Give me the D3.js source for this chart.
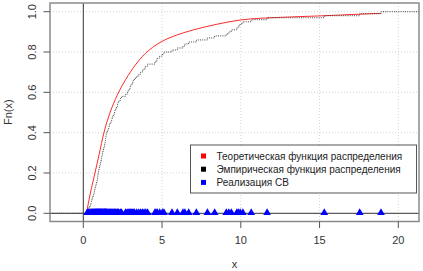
<!DOCTYPE html>
<html><head><meta charset="utf-8">
<script src="https://cdn.jsdelivr.net/npm/d3@7"></script>
<style>
html,body{margin:0;padding:0;background:#fff;}
svg{display:block;font-family:"Liberation Sans",Arial,sans-serif;}
</style></head>
<body>
<svg id="c" width="423" height="271"></svg>
<script>
// sample (realisation of the random variable)
const sample = [0.25,0.31,0.36,0.42,0.47,0.51,0.55,0.58,0.62,0.66,
 0.70,0.73,0.76,0.79,0.82,0.85,0.88,0.90,0.92,0.94,
 0.97,1.00,1.02,1.05,1.08,1.10,1.13,1.16,1.19,1.22,1.25,1.28,1.31,1.34,1.36,1.39,1.41,1.43,1.45,1.47,
 1.52,1.57,1.62,1.66,1.71,1.76,1.81,1.86,1.91,1.96,2.01,2.06,2.11,2.16,2.21,2.26,
 2.36,2.43,
 2.68,2.78,2.85,2.92,2.98,3.04,3.11,3.17,3.24,
 3.38,3.52,3.64,3.75,3.86,3.97,
 4.08,4.55,4.62,
 4.70,4.85,5.02,
 5.12,5.63,
 5.97,6.33,6.45,6.69,
 7.18,7.88,8.34,
 9.08,9.24,9.40,
 9.75,9.84,9.96,10.13,
 10.66,11.67,
 15.3,17.55,18.9];
// theoretical distribution function
const theorX = [0.2,0.45,0.74,1.0,1.31,1.7,2.15,2.7,3.3,3.9,4.4,5,6,7,8.5,10,12.5,15,17,18.9];
const theorY = [0,0.1,0.2,0.29,0.4,0.5,0.585,0.665,0.735,0.79,0.823,0.853,0.886,0.91,0.938,0.959,0.972,0.979,0.986,0.992];
const xTicks = [0,5,10,15,20];
const yTicks = [0,0.2,0.4,0.6,0.8,1.0];
const legendLabels = ["Теоретическая функция распределения","Эмпирическая функция распределения","Реализация СВ"];
const legendColors = ["#ff0000","#000000","#0000ff"];

const svg = d3.select("#c");
const box = {l:50, r:419, t:3, b:221.5};
const x = d3.scaleLinear().domain([0,20]).range([83.3,398.3]);
const y = d3.scaleLinear().domain([0,1]).range([213.3,11.7]);
const xMin = x.invert(box.l), xMax = x.invert(box.r);

svg.append("defs").append("clipPath").attr("id","clip")
  .append("rect").attr("x",box.l).attr("y",box.t).attr("width",box.r-box.l).attr("height",box.b-box.t);

// grid
const g = svg.append("g").attr("clip-path","url(#clip)");
g.selectAll(".gy").data(yTicks.slice(1)).join("line")
  .attr("x1",box.l).attr("x2",box.r).attr("y1",d=>y(d)).attr("y2",d=>y(d))
  .attr("stroke","#d3d3d3").attr("stroke-dasharray","1,2");
g.selectAll(".gx").data(xTicks.slice(1)).join("line")
  .attr("y1",box.t).attr("y2",box.b).attr("x1",d=>x(d)).attr("x2",d=>x(d))
  .attr("stroke","#d3d3d3").attr("stroke-dasharray","1,2");

// reference lines
g.append("line").attr("x1",box.l).attr("x2",box.r).attr("y1",y(0)).attr("y2",y(0)).attr("stroke","#333");
g.append("line").attr("x1",x(0)).attr("x2",x(0)).attr("y1",box.t).attr("y2",box.b).attr("stroke","#333");

// theoretical curve
const pts = theorX.map((v,i)=>[v,theorY[i]]);
g.append("path").datum(pts)
  .attr("d",d3.line().x(d=>x(d[0])).y(d=>y(d[1])).curve(d3.curveMonotoneX))
  .attr("fill","none").attr("stroke","#ff2a2a").attr("stroke-width",1);

// empirical step function
const n = sample.length;
const sorted = sample.slice().sort((a,b)=>a-b);
const steps = [[xMin,0]].concat(sorted.map((v,i)=>[v,(i+1)/n])).concat([[xMax,1]]);
g.append("path").datum(steps)
  .attr("d",d3.line().x(d=>x(d[0])).y(d=>y(d[1])).curve(d3.curveStepAfter))
  .attr("fill","none").attr("stroke","#444").attr("stroke-width",1).attr("stroke-dasharray","1,1.2");

// sample points
g.selectAll(".pt").data(sample).join("path")
  .attr("d",d3.symbol(d3.symbolTriangle,26))
  .attr("transform",d=>`translate(${x(d)},${y(0)-0.5})`)
  .attr("fill","#0000ff");

// box
svg.append("rect").attr("x",box.l).attr("y",box.t).attr("width",box.r-box.l).attr("height",box.b-box.t)
  .attr("fill","none").attr("stroke","#8a8a8a").attr("stroke-width",1.5);

// axes ticks and labels
const axG = svg.append("g");
axG.selectAll(".xt").data(xTicks).join("line")
  .attr("x1",d=>x(d)).attr("x2",d=>x(d)).attr("y1",box.b).attr("y2",box.b+6.5).attr("stroke","#555");
axG.selectAll(".xl").data(xTicks).join("text")
  .attr("x",d=>x(d)).attr("y",244).attr("text-anchor","middle")
  .attr("font-size",11).attr("fill","#333").text(d=>d);
axG.selectAll(".yt").data(yTicks).join("line")
  .attr("x1",box.l-6.5).attr("x2",box.l).attr("y1",d=>y(d)).attr("y2",d=>y(d)).attr("stroke","#555");
axG.selectAll(".yl").data(yTicks).join("text")
  .attr("transform",d=>`translate(36,${y(d)}) rotate(-90)`).attr("text-anchor","middle")
  .attr("font-size",11).attr("fill","#333").text(d=>d3.format(".1f")(d));
svg.append("text").attr("x",(box.l+box.r)/2).attr("y",268).attr("text-anchor","middle")
  .attr("font-size",11).attr("fill","#333").text("x");
svg.append("text").attr("transform",`translate(12,${(box.t+box.b)/2}) rotate(-90)`).attr("text-anchor","middle")
  .attr("font-size",11).attr("fill","#333").text("Fn(x)");

// legend
const lg = svg.append("g");
lg.append("rect").attr("x",190.5).attr("y",145).attr("width",226).attr("height",48)
  .attr("fill","#fff").attr("stroke","#555").attr("stroke-width",1);
legendLabels.forEach((t,i)=>{
  const cy = 156 + i*13.2;
  lg.append("rect").attr("x",201).attr("y",cy-2.5).attr("width",5).attr("height",5).attr("fill",legendColors[i]);
  lg.append("text").attr("x",216.5).attr("y",cy+3.6).attr("font-size",10).attr("fill","#222").text(t);
});
</script>
</body></html>
